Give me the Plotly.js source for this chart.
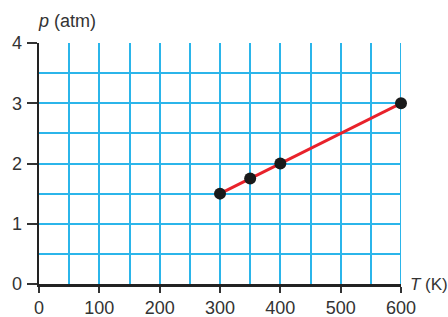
<!DOCTYPE html>
<html><head><meta charset="utf-8">
<script src="https://cdn.plot.ly/plotly-3.0.1.min.js"></script>
<style>html,body{margin:0;padding:0;background:#fff}#c{width:448px;height:317px}</style>
</head><body><div id="c"></div>
<script>
const temperatureK = [300, 350, 400, 600];
const pressureAtm = [1.5, 1.75, 2, 3];
const xTicks = [0, 100, 200, 300, 400, 500, 600];
const yTicks = [0, 1, 2, 3, 4];

const grid = '#2bb5ea';
const gw = 2;
const trace = {
  x: temperatureK, y: pressureAtm, type: 'scatter', mode: 'lines+markers',
  line: {color: '#e8222b', width: 3},
  marker: {color: '#1a1a1a', size: 12},
  cliponaxis: false, hoverinfo: 'skip'
};
const layout = {
  width: 448, height: 317,
  margin: {l: 39, r: 47, t: 43, b: 33},
  paper_bgcolor: '#fff', plot_bgcolor: '#fff',
  font: {family: 'Liberation Sans, Arial, sans-serif', size: 18, color: '#333'},
  showlegend: false,
  xaxis: {
    range: [0, 600], tickvals: xTicks, ticktext: xTicks.map(String),
    showgrid: true, gridcolor: grid, gridwidth: gw,
    minor: {dtick: 50, tick0: 0, showgrid: true, gridcolor: grid, gridwidth: gw, ticks: ''},
    zeroline: false, showline: true, linecolor: '#222', linewidth: 2.5,
    ticks: 'outside', ticklen: 6, tickwidth: 2, tickcolor: '#333',
    ticklabelstandoff: 0,
    tickfont: {size: 18, color: '#333'}, fixedrange: true
  },
  yaxis: {
    range: [0, 4], tickvals: yTicks, ticktext: yTicks.map(String),
    showgrid: true, gridcolor: grid, gridwidth: gw,
    minor: {dtick: 0.5, tick0: 0, showgrid: true, gridcolor: grid, gridwidth: gw, ticks: ''},
    zeroline: false, showline: true, linecolor: '#222', linewidth: 2.5,
    ticks: 'outside', ticklen: 10, tickwidth: 2, tickcolor: '#333',
    ticklabelstandoff: 1,
    tickfont: {size: 18, color: '#333'}, fixedrange: true
  },
  shapes: [
    {type: 'line', xref: 'x', yref: 'paper', x0: 600, x1: 600, y0: 0, y1: 1, line: {color: grid, width: gw}, layer: 'below'}
  ],
  annotations: [
    {text: '<i>p</i> (atm)', xref: 'paper', yref: 'paper', x: 0, y: 1, xshift: -3, yshift: 10,
     xanchor: 'left', yanchor: 'bottom', showarrow: false, font: {size: 18, color: '#333'}},
    {text: '<i>T</i> (K)', xref: 'paper', yref: 'paper', x: 1, y: 0, xshift: 7,
     xanchor: 'left', yanchor: 'middle', showarrow: false, font: {size: 17, color: '#333'}}
  ]
};
Plotly.newPlot('c', [trace], layout, {displayModeBar: false, staticPlot: true});
</script></body></html>
